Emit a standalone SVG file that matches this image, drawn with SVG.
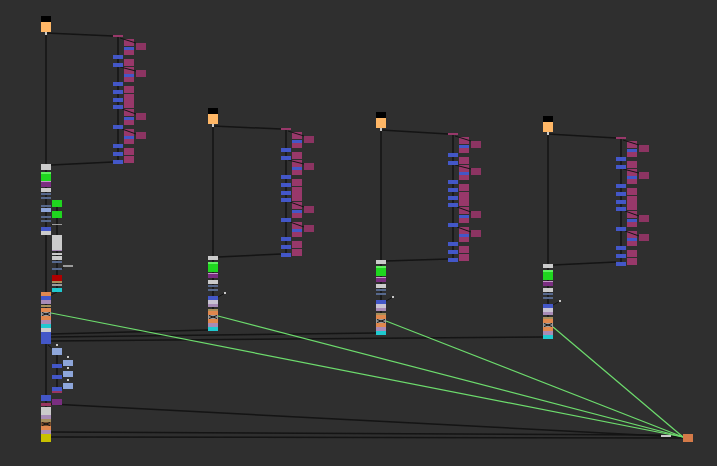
<svg xmlns="http://www.w3.org/2000/svg" width="717" height="466" viewBox="0 0 717 466">
<style>
.e{stroke:#141414;stroke-width:1.5;fill:none}
.s{stroke:#1a1a1a;stroke-width:2;fill:none}
.t{stroke:#141414;stroke-width:1;fill:none}
.g{stroke:#6ddc6d;stroke-width:1.2;fill:none}
.bl{fill:#4357c8}
.pk{fill:#98386a}
.bp{fill:#8c3462}
.gr{fill:#cbcbcb}
.gn{fill:#1fd61f}
.gl{fill:#60ee60}
.pu{fill:#7a2e80}
.ps{fill:#c49ac8}
.dk{fill:#56688c}
.lv{fill:#a88bb6}
.lg{fill:#c9c3d3}
.tn{fill:#a68f5c}
.or{fill:#e0884e}
.gx{fill:#9c9c9c}
.cy{fill:#1fc9d0}
.rd{fill:#b00000}
.ye{fill:#c8c000}
.lb{fill:#8ea6da}
.mg{fill:#9a3660}
.on{fill:#ffb766}
.hd{fill:#000}
.hn{fill:#c8c8c8}
</style>
<rect width="717" height="466" fill="#2f2f2f"/>
<defs>
<g id="colT">
<line class="s" x1="5" y1="2" x2="5" y2="127"/>
<rect class="pk" x="0" y="0" width="10" height="2"/>
<rect class="pk" x="11" y="4" width="10" height="7"/>
<rect class="bl" x="11" y="12" width="10" height="3"/>
<rect class="pk" x="11" y="15" width="10" height="5"/>
<rect class="bp" x="23" y="8" width="10" height="7"/>
<line class="t" x1="7" y1="3" x2="23" y2="8"/>
<rect class="pk" x="11" y="24" width="10" height="7"/>
<rect class="pk" x="11" y="32" width="10" height="7"/>
<rect class="bl" x="11" y="39" width="10" height="3"/>
<rect class="pk" x="11" y="42" width="10" height="5"/>
<rect class="bp" x="23" y="35" width="10" height="7"/>
<line class="t" x1="7" y1="32" x2="23" y2="36"/>
<rect class="pk" x="11" y="51" width="10" height="7"/>
<rect class="pk" x="11" y="59" width="10" height="7"/>
<rect class="pk" x="11" y="66" width="10" height="7"/>
<rect class="pk" x="11" y="74" width="10" height="7"/>
<rect class="bl" x="11" y="82" width="10" height="3"/>
<rect class="pk" x="11" y="85" width="10" height="5"/>
<rect class="bp" x="23" y="78" width="10" height="7"/>
<line class="t" x1="9" y1="74" x2="23" y2="79"/>
<rect class="pk" x="11" y="94" width="10" height="7"/>
<rect class="bl" x="11" y="101" width="10" height="3"/>
<rect class="pk" x="11" y="104" width="10" height="5"/>
<rect class="bp" x="23" y="97" width="10" height="7"/>
<line class="t" x1="9" y1="94" x2="23" y2="99"/>
<rect class="pk" x="11" y="113" width="10" height="7"/>
<rect class="pk" x="11" y="121" width="10" height="7"/>
<rect class="bl" x="0" y="20" width="10" height="4"/>
<rect class="bl" x="0" y="28" width="10" height="4"/>
<rect class="bl" x="0" y="47" width="10" height="4"/>
<rect class="bl" x="0" y="55" width="10" height="4"/>
<rect class="bl" x="0" y="63" width="10" height="4"/>
<rect class="bl" x="0" y="70" width="10" height="4"/>
<rect class="bl" x="0" y="90" width="10" height="4"/>
<rect class="bl" x="0" y="109" width="10" height="4"/>
<rect class="bl" x="0" y="117" width="10" height="4"/>
<rect class="bl" x="0" y="125" width="10" height="4"/>
</g>
<g id="stkT">
<line class="s" x1="5" y1="0" x2="5" y2="75"/>
<rect class="gr" x="0" y="0" width="10" height="4"/>
<rect class="gn" x="0" y="6" width="10" height="10"/>
<rect class="gl" x="0" y="6" width="10" height="2"/>
<rect class="ps" x="0" y="17" width="10" height="1"/>
<rect class="pu" x="0" y="18" width="10" height="4"/>
<rect class="gr" x="0" y="24" width="10" height="4"/>
<rect class="dk" x="0" y="29" width="10" height="2"/>
<rect class="dk" x="0" y="33" width="10" height="2"/>
<line class="t" x1="10" y1="41" x2="17" y2="37"/>
<rect class="hn" x="16" y="36" width="2" height="2"/>
<rect class="bl" x="0" y="40" width="10" height="4"/>
<rect class="lg" x="0" y="44" width="10" height="4"/>
<rect class="lv" x="0" y="48" width="10" height="3"/>
<rect class="tn" x="0" y="53" width="10" height="2"/>
<rect class="or" x="0" y="55" width="10" height="4"/>
<rect class="gx" x="0" y="59" width="10" height="4"/>
<path class="t" d="M1 59.5L9 62.5M1 62.5L9 59.5"/>
<rect class="or" x="0" y="63" width="10" height="4"/>
<rect class="lv" x="0" y="67" width="10" height="4"/>
<rect class="cy" x="0" y="71" width="10" height="4"/>
</g>
</defs>
<g id="connectors">
<line class="s" x1="46" y1="33" x2="46" y2="440"/>
<line class="s" x1="213" y1="126" x2="213" y2="256"/>
<line class="s" x1="381" y1="130" x2="381" y2="260"/>
<line class="s" x1="548" y1="134" x2="548" y2="264"/>
<line class="s" x1="57" y1="207" x2="57" y2="292"/>
<line class="s" x1="57" y1="350" x2="57" y2="393"/>
<line class="e" x1="46" y1="33" x2="113" y2="36"/>
<line class="e" x1="113" y1="162" x2="51" y2="165"/>
<line class="e" x1="213" y1="126" x2="281" y2="129"/>
<line class="e" x1="281" y1="254" x2="218" y2="257"/>
<line class="e" x1="381" y1="130" x2="448" y2="134"/>
<line class="e" x1="448" y1="259" x2="386" y2="261"/>
<line class="e" x1="548" y1="134" x2="616" y2="138"/>
<line class="e" x1="616" y1="262" x2="553" y2="265"/>
<line class="e" x1="51" y1="334" x2="208" y2="330"/>
<line class="e" x1="51" y1="337" x2="376" y2="333"/>
<line class="e" x1="51" y1="341" x2="543" y2="337"/>
<line class="e" x1="51" y1="404" x2="661" y2="436"/>
<line class="e" x1="51" y1="432" x2="661" y2="435"/>
<line class="e" x1="51" y1="437" x2="683" y2="438"/>
<line class="e" x1="671" y1="436" x2="683" y2="437"/>
<line class="t" x1="57" y1="292" x2="51" y2="295"/>
<line class="t" x1="48" y1="345" x2="54" y2="350"/>
<line class="t" x1="51" y1="225" x2="52" y2="225"/>
<line class="t" x1="62" y1="269" x2="64" y2="266"/>
<line class="t" x1="62" y1="366" x2="63" y2="364"/>
<line class="t" x1="62" y1="377" x2="63" y2="375"/>
<line class="t" x1="62" y1="389" x2="63" y2="387"/>
<line class="g" x1="51" y1="313" x2="683" y2="437"/>
<line class="g" x1="218" y1="316" x2="683" y2="437"/>
<line class="g" x1="386" y1="321" x2="683" y2="437"/>
<line class="g" x1="553" y1="327" x2="683" y2="437"/>
</g>
<g id="module1">
<g id="m1-top"><rect class="hd" x="41" y="16" width="10" height="6"/><rect class="on" x="41" y="22" width="10" height="10"/><rect class="hn" x="45" y="32" width="2" height="3"/></g>
<g id="m1-col" transform="translate(113,35)"><use href="#colT"/></g>
<g id="m1-stack">
<rect class="gr" x="41" y="164" width="10" height="6"/>
<rect class="gn" x="41" y="172" width="10" height="10"/>
<rect class="gl" x="41" y="172" width="10" height="2"/>
<rect class="ps" x="41" y="181" width="10" height="1"/>
<rect class="pu" x="41" y="182" width="10" height="5"/>
<rect class="gr" x="41" y="188" width="10" height="4"/>
<rect class="dk" x="41" y="193" width="10" height="2"/>
<rect class="dk" x="41" y="197" width="10" height="2"/>
<rect class="dk" x="41" y="205" width="10" height="2"/>
<rect class="lb" x="41" y="208" width="10" height="4"/>
<rect class="dk" x="41" y="216" width="10" height="2"/>
<rect class="dk" x="41" y="220" width="10" height="2"/>
<rect class="bl" x="41" y="227" width="10" height="4"/>
<rect class="gr" x="41" y="231" width="10" height="4"/>
<rect class="gn" x="52" y="200" width="10" height="7"/>
<rect class="gn" x="52" y="211" width="10" height="7"/>
<rect class="gx" x="52" y="224" width="10" height="1"/>
<rect class="gr" x="52" y="235" width="10" height="15"/>
<rect class="lv" x="52" y="250" width="10" height="1"/>
<rect class="gr" x="52" y="253" width="10" height="2"/>
<rect class="gr" x="52" y="256" width="10" height="4"/>
<rect class="dk" x="52" y="261" width="10" height="2"/>
<rect class="dk" x="52" y="268" width="10" height="2"/>
<rect class="gx" x="63" y="265" width="10" height="2"/>
<rect class="rd" x="52" y="275" width="10" height="6"/>
<rect class="tn" x="52" y="281" width="10" height="2"/>
<rect class="gx" x="52" y="284" width="10" height="2"/>
<rect class="cy" x="52" y="288" width="10" height="4"/>
<rect class="or" x="41" y="292" width="10" height="4"/>
<rect class="bl" x="41" y="296" width="10" height="4"/>
<rect class="lv" x="41" y="300" width="10" height="4"/>
<rect class="tn" x="41" y="305" width="10" height="2"/>
<rect class="or" x="41" y="308" width="10" height="4"/>
<rect class="gx" x="41" y="312" width="10" height="4"/>
<path class="t" d="M42 312.5L50 315.5M42 315.5L50 312.5"/>
<rect class="or" x="41" y="316" width="10" height="4"/>
<rect class="lv" x="41" y="320" width="10" height="4"/>
<rect class="cy" x="41" y="324" width="10" height="4"/>
<rect class="gr" x="41" y="328" width="10" height="4"/>
<rect class="bl" x="41" y="332" width="10" height="4"/>
<rect class="bl" x="41" y="336" width="10" height="4"/>
<rect class="bl" x="41" y="340" width="10" height="4"/>
<rect class="hn" x="56" y="344" width="2" height="2"/>
<rect class="lb" x="52" y="348" width="10" height="7"/>
<rect class="bl" x="52" y="364" width="10" height="4"/>
<rect class="bl" x="52" y="375" width="10" height="4"/>
<rect class="bl" x="52" y="387" width="10" height="4"/>
<rect class="mg" x="52" y="391" width="10" height="2"/>
<rect class="hn" x="67" y="356" width="2" height="2"/>
<rect class="lb" x="63" y="360" width="10" height="6"/>
<rect class="hn" x="67" y="367" width="2" height="2"/>
<rect class="lb" x="63" y="371" width="10" height="6"/>
<rect class="hn" x="67" y="379" width="2" height="2"/>
<rect class="lb" x="63" y="383" width="10" height="6"/>
<rect class="bl" x="41" y="395" width="10" height="6"/>
<rect class="mg" x="41" y="403" width="10" height="3"/>
<rect class="pu" x="52" y="399" width="10" height="6"/>
<rect class="gr" x="41" y="407" width="10" height="8"/>
<rect class="lv" x="41" y="415" width="10" height="4"/>
<rect class="tn" x="41" y="419" width="10" height="3"/>
<rect class="or" x="41" y="422" width="10" height="4" style="fill:#7a5030"/>
<path class="t" d="M42 422.5L50 425.5M42 425.5L50 422.5"/>
<rect class="or" x="41" y="426" width="10" height="4"/>
<rect class="lv" x="41" y="430" width="10" height="4"/>
<rect class="ye" x="41" y="434" width="10" height="8"/>
</g>
</g>
<g id="module2">
<g id="m2-top"><rect class="hd" x="208" y="108" width="10" height="6"/><rect class="on" x="208" y="114" width="10" height="10"/><rect class="hn" x="212" y="124" width="2" height="3"/></g>
<g id="m2-col" transform="translate(281,128)"><use href="#colT"/></g>
<g id="m2-stack" transform="translate(208,256)"><use href="#stkT"/></g>
</g>
<g id="module3">
<g id="m3-top"><rect class="hd" x="376" y="112" width="10" height="6"/><rect class="on" x="376" y="118" width="10" height="10"/><rect class="hn" x="380" y="128" width="2" height="3"/></g>
<g id="m3-col" transform="translate(448,133)"><use href="#colT"/></g>
<g id="m3-stack" transform="translate(376,260)"><use href="#stkT"/></g>
</g>
<g id="module4">
<g id="m4-top"><rect class="hd" x="543" y="116" width="10" height="6"/><rect class="on" x="543" y="122" width="10" height="10"/><rect class="hn" x="547" y="132" width="2" height="3"/></g>
<g id="m4-col" transform="translate(616,137)"><use href="#colT"/></g>
<g id="m4-stack" transform="translate(543,264)"><use href="#stkT"/></g>
</g>
<g id="output">
<rect class="gr" x="661" y="435" width="10" height="2"/>
<rect x="683" y="434" width="10" height="8" fill="#d47a48"/>
</g>
</svg>
